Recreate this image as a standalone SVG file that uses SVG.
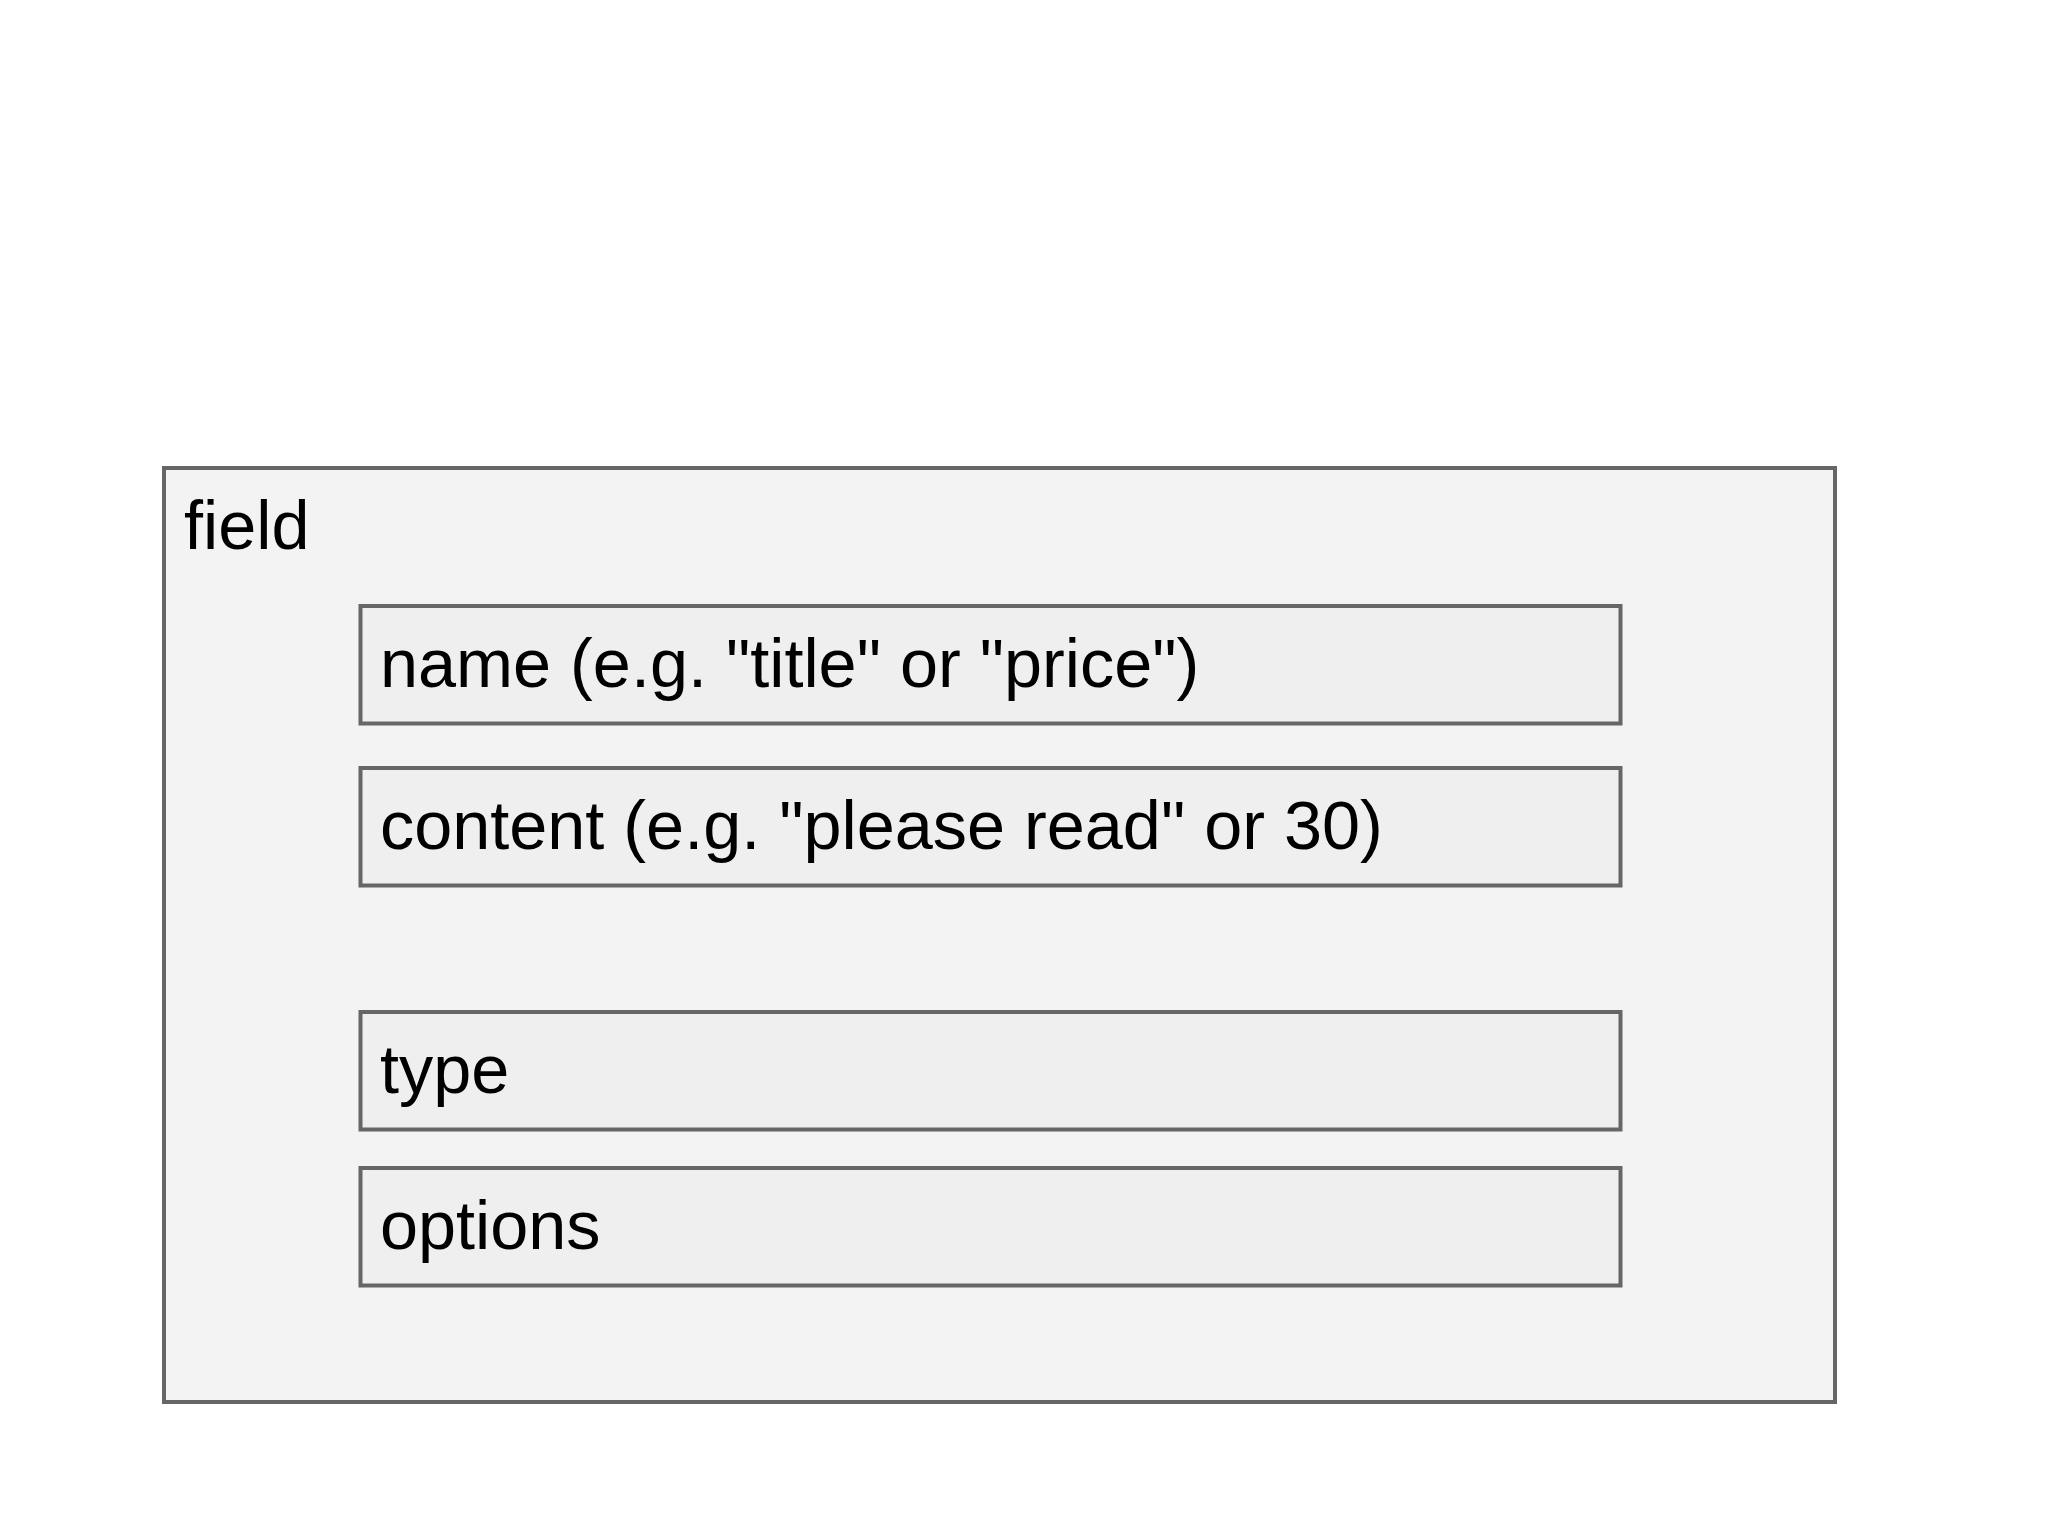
<svg xmlns="http://www.w3.org/2000/svg" width="2048" height="1536" viewBox="0 0 2048 1536">
<style>
.outer{fill:#f3f3f3;stroke:#666666;stroke-width:4}
.inner{fill:#efefef;stroke:#666666;stroke-width:4}
.t{font-family:"Liberation Sans",Arial,sans-serif;font-size:68.4px;fill:#000}
</style>
<rect width="2048" height="1536" fill="#ffffff"/>
<g id="field">
<rect class="outer" x="164" y="468" width="1671" height="934"/>
<text class="t" x="184" y="549">field</text>
</g>
<g id="name">
<rect class="inner" x="360.5" y="606" width="1260" height="117.5"/>
<text class="t" x="380" y="687">name (e.g. "title" or "price")</text>
</g>
<g id="content">
<rect class="inner" x="360.5" y="768" width="1260" height="117.5"/>
<text class="t" x="380" y="849">content (e.g. "please read" or 30)</text>
</g>
<g id="type">
<rect class="inner" x="360.5" y="1012" width="1260" height="117.5"/>
<text class="t" x="380" y="1093">type</text>
</g>
<g id="options">
<rect class="inner" x="360.5" y="1168" width="1260" height="117.5"/>
<text class="t" x="380" y="1249">options</text>
</g>
<g id="connectors"/>
</svg>
